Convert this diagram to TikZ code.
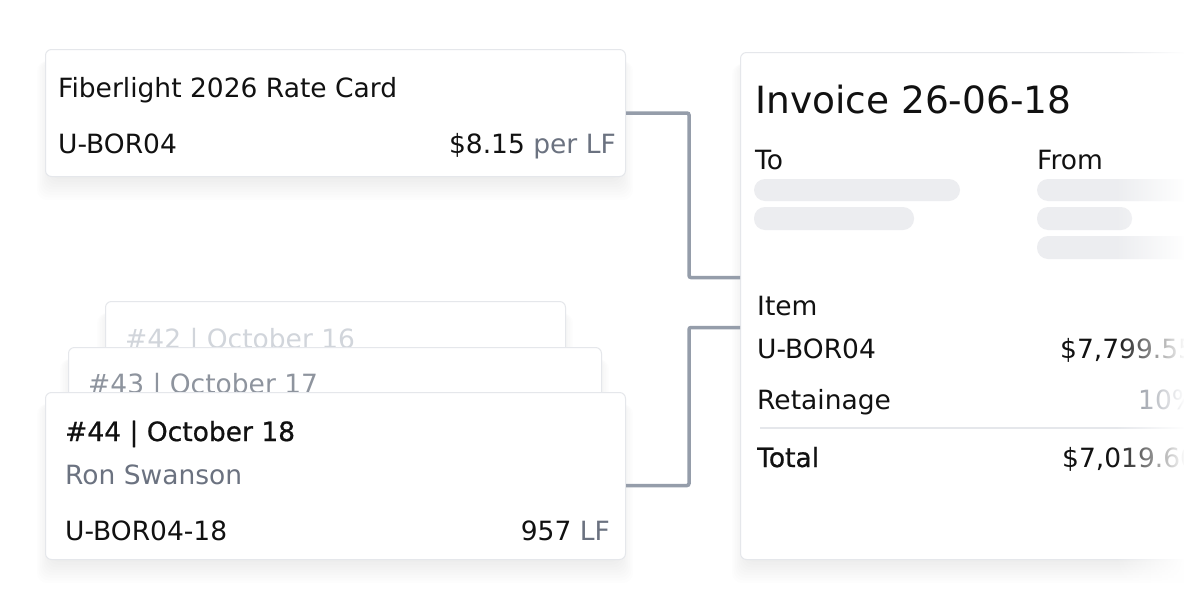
\documentclass[tikz,border=0pt]{standalone}
\usepackage{fontspec}
\setmainfont{DejaVu Sans}
\newfontfamily\medfont{DejaVu Sans}[FakeBold=0.8]
\usetikzlibrary{fadings}
\definecolor{ink}{HTML}{111111}
\definecolor{muted}{HTML}{6B7280}
\definecolor{faint}{HTML}{D1D5DB}
\definecolor{dim}{HTML}{8E949E}
\definecolor{rim}{HTML}{E5E7EB}
\definecolor{wirecol}{HTML}{959DAA}
\definecolor{barcol}{HTML}{ECEDF0}
\tikzfading[name=fadeinright, left color=transparent!100, right color=transparent!0]
% soft shadow under a card, pixel corners x1,y1,x2,y2
\newcommand{\cardshade}[4]{%
	\foreach \k in {0,2,...,20}
		\fill[black, opacity=0.007, rounded corners=10pt] (#1+8-\k*0.8,#2+8+\k*0.2) rectangle (#3-8+\k*0.8,#4-2+\k*1.3);
}
\tikzset{
	card/.style={fill=white, draw=rim, line width=1pt, rounded corners=6pt, inner sep=0pt, anchor=north west},
	txt/.style={inner sep=0pt, anchor=base west, text=ink, font=\fontsize{26.5}{32}\selectfont},
	rtxt/.style={txt, anchor=base east},
	big/.style={txt, font=\fontsize{37.5}{44}\selectfont},
	link/.style={draw=wirecol, line width=3.5pt, rounded corners=2pt},
	blank/.style={fill=barcol, rounded corners=11pt},
}
\begin{document}
\begin{tikzpicture}[x=1pt,y=-1pt]
	\fill[white] (0,0) rectangle (1200,600);
	\useasboundingbox (0,0) rectangle (1200,600);
	% rate card
	\cardshade{45}{49}{625}{176}
	\node[card, minimum width=580pt, minimum height=127pt] (rate) at (45,49) {};
	\node[txt] (rname) at (58,97) {Fiberlight 2026 Rate Card};
	\node[txt] (rcode) at (58,153) {U-BOR04};
	\node[rtxt] (rprice) at (616,153) {\$8.15 \textcolor{muted}{per LF}};
	% stacked reports
	\cardshade{105}{301}{565}{451}
	\node[card, minimum width=460pt, minimum height=150pt] (c42) at (105,301) {};
	\node[txt, text=faint] (h42) at (125,348) {\#42 | October 16};
	\cardshade{68}{347}{601}{497}
	\node[card, minimum width=533pt, minimum height=150pt] (c43) at (68,347) {};
	\node[txt, text=dim] (h43) at (88,393) {\#43 | October 17};
	\cardshade{45}{392}{625}{559}
	\node[card, minimum width=580pt, minimum height=167pt] (c44) at (45,392) {};
	\node[txt, font=\fontsize{26.5}{32}\medfont] (h44) at (65,441) {\#44 | October 18};
	\node[txt, text=muted] (who) at (65,484) {Ron Swanson};
	\node[txt] (code44) at (65,540) {U-BOR04-18};
	\node[rtxt] (qty) at (610,540) {957 \textcolor{muted}{LF}};
	% invoice
	\cardshade{740}{52}{1260}{559}
	\node[card, minimum width=520pt, minimum height=507pt] (inv) at (740,52) {};
	\node[big] (title) at (755,113) {Invoice 26-06-18};
	\node[txt] (to) at (755,169) {To};
	\node[txt] (from) at (1037,169) {From};
	\fill[blank] (754,179) rectangle (960,201);
	\fill[blank] (754,207) rectangle (914,230);
	\fill[blank] (1037,179) rectangle (1230,201);
	\fill[blank] (1037,207) rectangle (1132,230);
	\fill[blank] (1037,236) rectangle (1230,259);
	\node[txt] (item) at (757,315) {Item};
	\node[txt] (icode) at (757,358) {U-BOR04};
	\node[txt] (iamt) at (1060,358) {\$7,799.55};
	\node[txt] (ret) at (757,409) {Retainage};
	\node[txt, text=muted] (rpct) at (1138,409) {10\%};
	\draw[rim, line width=2pt] (760,428) -- (1210,428);
	\node[txt, font=\fontsize{26.5}{32}\medfont] (tot) at (757,467) {Total};
	\node[txt] (tamt) at (1062,467) {\$7,019.60};
	\fill[white, path fading=fadeinright] (1115,30) rectangle (1185,600);
	\fill[white] (1184,30) rectangle (1200,600);
	% links
	\draw[link] (rate.east) -- ++(63pt,0) |- ([yshift=28.5pt]inv.west);
	\draw[link] ([yshift=-9.5pt]c44.east) -- ++(63pt,0) |- ([yshift=-21.5pt]inv.west);
\end{tikzpicture}
\end{document}
